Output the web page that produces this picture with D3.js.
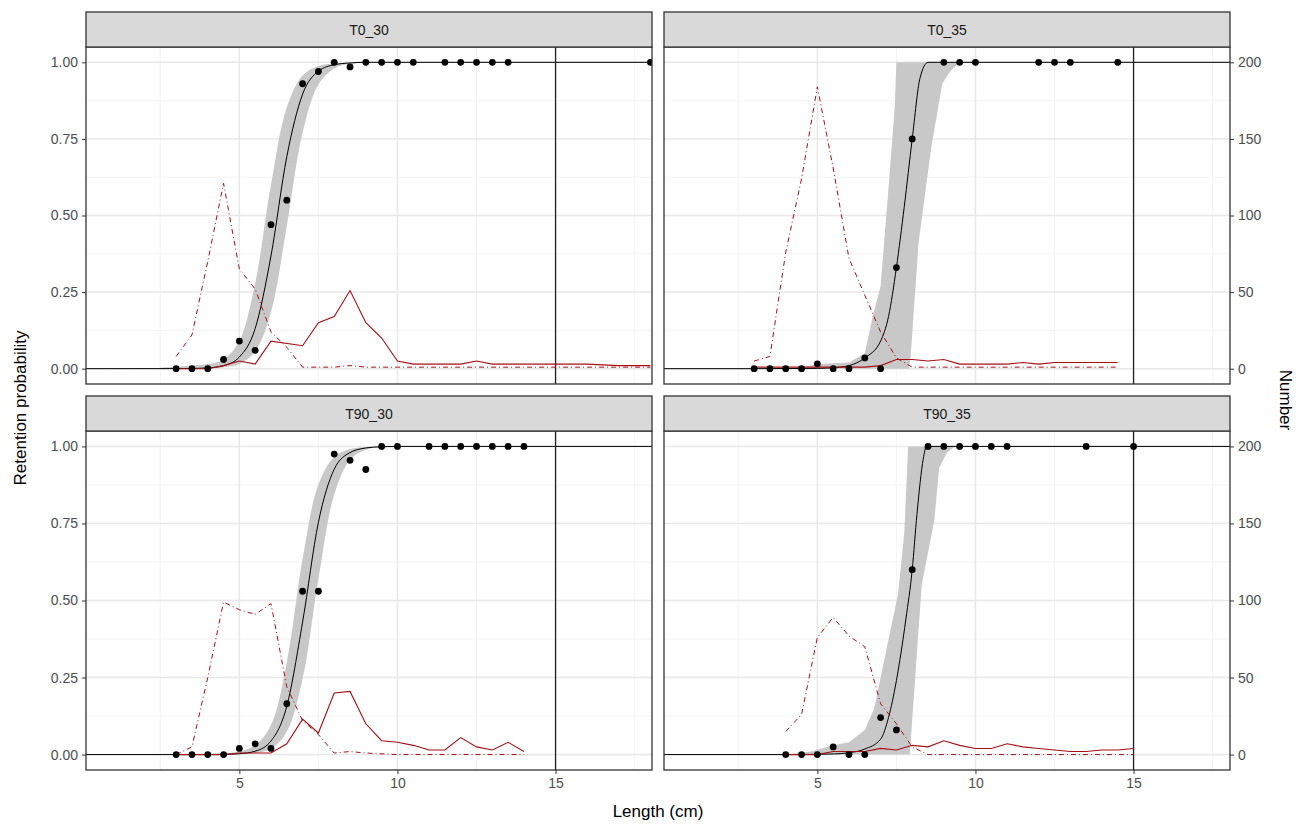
<!DOCTYPE html>
<html>
<head>
<meta charset="utf-8">
<script src="https://cdn.jsdelivr.net/npm/d3@7"></script>
<style>
  body { margin: 0; background: #fff; }
  text { font-family: "Liberation Sans", Arial, sans-serif; }
</style>
</head>
<body>
<div id="chart"></div>
<script>
// Panel names (facets)
const panels = ['T0_30', 'T0_35', 'T90_30', 'T90_35'];

// Observed retention points per panel
const obsLen = {
  T0_30: [3, 3.5, 4, 4.5, 5, 5.5, 6, 6.5, 7, 7.5, 8, 8.5, 9, 9.5, 10, 10.5, 11.5, 12, 12.5, 13, 13.5, 18],
  T0_35: [3, 3.5, 4, 4.5, 5, 5.5, 6, 6.5, 7, 7.5, 8, 9, 9.5, 10, 12, 12.5, 13, 14.5],
  T90_30: [3, 3.5, 4, 4.5, 5, 5.5, 6, 6.5, 7, 7.5, 8, 8.5, 9, 9.5, 10, 11, 11.5, 12, 12.5, 13, 13.5, 14],
  T90_35: [4, 4.5, 5, 5.5, 6, 6.5, 7, 7.5, 8, 8.5, 9, 9.5, 10, 10.5, 11, 13.5, 15]
};
const obsProb = {
  T0_30: [0, 0, 0, 0.03, 0.09, 0.06, 0.47, 0.55, 0.93, 0.97, 1, 0.985, 1, 1, 1, 1, 1, 1, 1, 1, 1, 1],
  T0_35: [0, 0, 0, 0, 0.016, 0, 0, 0.035, 0, 0.33, 0.75, 1, 1, 1, 1, 1, 1, 1],
  T90_30: [0, 0, 0, 0, 0.02, 0.035, 0.02, 0.165, 0.53, 0.53, 0.975, 0.955, 0.925, 1, 1, 1, 1, 1, 1, 1, 1, 1],
  T90_35: [0, 0, 0, 0.025, 0, 0, 0.12, 0.08, 0.6, 1, 1, 1, 1, 1, 1, 1, 1]
};

// Fitted selectivity curve
const fitLen = {
  T0_30: [0, 3, 3.5, 4, 4.5, 5, 5.5, 6, 6.5, 7, 7.5, 8, 8.5, 9, 18.5],
  T0_35: [0, 3, 5, 5.5, 6, 6.5, 7, 7.25, 7.5, 7.75, 8, 8.25, 8.5, 18.5],
  T90_30: [0, 3, 4, 4.5, 5, 5.5, 6, 6.5, 7, 7.5, 8, 8.5, 9, 9.5, 10, 18.5],
  T90_35: [0, 4, 5.5, 6, 6.5, 7, 7.25, 7.5, 7.8, 8, 8.15, 8.35, 8.45, 18.5]
};
const fitProb = {
  T0_30: [0, 0.0002, 0.0007, 0.0026, 0.01, 0.038, 0.131, 0.368, 0.692, 0.896, 0.971, 0.992, 0.998, 1, 1],
  T0_35: [0, 0, 0.001, 0.003, 0.01, 0.035, 0.09, 0.17, 0.33, 0.53, 0.75, 0.95, 1, 1],
  T90_30: [0, 0, 0.0002, 0.0007, 0.0028, 0.011, 0.044, 0.157, 0.43, 0.754, 0.926, 0.98, 0.995, 0.999, 1, 1],
  T90_35: [0, 0, 0.002, 0.006, 0.018, 0.05, 0.12, 0.24, 0.44, 0.6, 0.78, 0.96, 1, 1]
};

// Confidence band edges (lower / upper)
const loLen = {
  T0_30: [2.5, 3, 3.5, 4, 4.5, 5, 5.5, 6, 6.5, 7, 7.5, 8, 8.5, 9, 9.5],
  T0_35: [3, 7.9, 7.95, 8.2, 8.6, 8.95, 9.2, 9.5],
  T90_30: [3, 5, 5.5, 6, 6.5, 7, 7.5, 8, 8.5, 9, 9.5, 10],
  T90_35: [4, 7.92, 7.95, 8.3, 8.7, 8.85, 9.1, 9.35]
};
const loProb = {
  T0_30: [0, 0, 0, 0.001, 0.004, 0.015, 0.056, 0.185, 0.466, 0.77, 0.928, 0.98, 0.995, 0.999, 1],
  T0_35: [0, 0, 0.04, 0.41, 0.72, 0.93, 0.97, 1],
  T90_30: [0, 0.0012, 0.005, 0.019, 0.074, 0.246, 0.57, 0.843, 0.956, 0.989, 0.997, 1],
  T90_35: [0, 0, 0.04, 0.55, 0.76, 0.93, 0.98, 1]
};
const hiLen = {
  T0_30: [2.5, 3, 3.5, 4, 4.5, 5, 5.5, 6, 6.5, 7, 7.5, 8, 8.5, 9, 9.5],
  T0_35: [3, 4.5, 5, 6, 6.5, 6.75, 7, 7.25, 7.45, 7.5, 9.5],
  T90_30: [3, 4.5, 5, 5.5, 6, 6.5, 7, 7.5, 8, 8.5, 9, 9.5, 10],
  T90_35: [4, 4.8, 5.5, 6, 6.5, 6.8, 7.1, 7.55, 7.75, 7.87, 9.35]
};
const hiProb = {
  T0_30: [0.003, 0.006, 0.01, 0.015, 0.03, 0.091, 0.28, 0.6, 0.853, 0.957, 0.988, 0.997, 0.999, 1, 1],
  T0_35: [0, 0.003, 0.015, 0.02, 0.05, 0.17, 0.27, 0.59, 0.86, 1, 1],
  T90_30: [0, 0.004, 0.01, 0.03, 0.096, 0.3, 0.636, 0.876, 0.966, 0.991, 0.998, 1, 1],
  T90_35: [0, 0.01, 0.03, 0.04, 0.08, 0.15, 0.3, 0.52, 0.72, 1, 1]
};

// Length frequency: retained catch (solid) and escapees (dot-dash), counts
const solidLen = {
  T0_30: [3, 3.5, 4, 4.5, 5, 5.5, 6, 7, 7.5, 8, 8.5, 9, 9.5, 10, 10.5, 11, 11.5, 12, 12.5, 13, 14, 15, 16, 17, 18],
  T0_35: [3, 3.5, 4, 4.5, 5, 5.5, 6, 6.5, 7, 7.5, 8, 8.5, 9, 9.5, 10, 11, 11.5, 12, 12.5, 13, 14, 14.5],
  T90_30: [3, 3.5, 4, 4.5, 5, 5.5, 6, 6.5, 7, 7.5, 8, 8.5, 9, 9.5, 10, 10.5, 11, 11.5, 12, 12.5, 13, 13.5, 14],
  T90_35: [4, 4.5, 5, 5.5, 6, 6.5, 7, 7.5, 8, 8.5, 9, 9.5, 10, 10.5, 11, 11.5, 12, 12.5, 13, 13.5, 14, 14.5, 15]
};
const solidNum = {
  T0_30: [0, 0, 0, 2, 5, 3, 18, 15, 30, 34, 51, 30, 20, 5, 3, 3, 3, 3, 5, 3, 3, 3, 3, 2, 2],
  T0_35: [1, 1, 1, 1, 1, 1, 1, 1, 2, 6, 6, 5, 6, 3, 3, 3, 4, 3, 4, 4, 4, 4],
  T90_30: [0, 0, 0, 0, 1, 1, 1, 7, 23, 14, 40, 41, 20, 9, 8, 6, 3, 3, 11, 5, 3, 8, 2],
  T90_35: [0, 0, 0, 2, 2, 2, 4, 3, 6, 5, 9, 6, 4, 4, 7, 5, 4, 3, 2, 2, 3, 3, 4]
};
const dashLen = {
  T0_30: [3, 3.5, 4, 4.5, 5, 5.5, 6, 6.5, 7, 7.5, 8, 8.5, 9, 10, 12, 14, 16, 18],
  T0_35: [3, 3.5, 4, 4.5, 5, 5.5, 6, 6.5, 7, 7.5, 8, 9, 10, 12, 14.5],
  T90_30: [3, 3.5, 4, 4.5, 5, 5.5, 6, 6.5, 7, 7.5, 8, 8.5, 9, 10, 12, 14],
  T90_35: [4, 4.5, 5, 5.5, 6, 6.5, 7, 7.5, 8, 8.5, 10, 12, 15]
};
const dashNum = {
  T0_30: [8, 22, 70, 121, 65, 52, 24, 14, 1, 1, 1, 2, 1, 1, 1, 1, 1, 1],
  T0_35: [5, 8, 76, 124, 184, 131, 72, 48, 24, 7, 1, 1, 1, 1, 1],
  T90_30: [0, 5, 50, 99, 94, 91, 98, 44, 22, 13, 1, 2, 1, 0, 0, 0],
  T90_35: [15, 26, 76, 89, 77, 70, 33, 20, 5, 0, 0, 0, 0]
};

const xTicks = [5, 10, 15];
const yTicks = [0, 0.25, 0.5, 0.75, 1];
const y2Ticks = [0, 50, 100, 150, 200];
const smoothBand = { T0_30: true, T0_35: false, T90_30: true, T90_35: false };

const W = 1298, H = 825;
const colX = [86, 664], colW = 566;
const rowStrip = [12, 396], stripH = 35, rowH = [337, 339];
const red = '#a50f15';

const svg = d3.select('#chart').append('svg').attr('width', W).attr('height', H);

const x = d3.scaleLinear().domain([0.15, 18.05]).range([0, colW]);

panels.forEach((name, i) => {
  const c = i % 2, r = Math.floor(i / 2);
  const px = colX[c], py = rowStrip[r] + stripH, ph = rowH[r];
  const y = d3.scaleLinear().domain([-0.05, 1.05]).range([ph, 0]);
  const yN = d3.scaleLinear().domain([-10, 210]).range([ph, 0]);

  const g = svg.append('g').attr('transform', `translate(${px},${py})`);
  const clipId = 'clip' + i;
  g.append('clipPath').attr('id', clipId).append('rect').attr('width', colW).attr('height', ph);

  // grid
  const minorX = [2.5, 7.5, 12.5, 17.5], minorY = [0.125, 0.375, 0.625, 0.875];
  g.selectAll('.mx').data(minorX).enter().append('line')
    .attr('x1', d => x(d)).attr('x2', d => x(d)).attr('y1', 0).attr('y2', ph)
    .attr('stroke', '#f0f0f0').attr('stroke-width', 0.8);
  g.selectAll('.my').data(minorY).enter().append('line')
    .attr('y1', d => y(d)).attr('y2', d => y(d)).attr('x1', 0).attr('x2', colW)
    .attr('stroke', '#f0f0f0').attr('stroke-width', 0.8);
  g.selectAll('.gx').data(xTicks).enter().append('line')
    .attr('x1', d => x(d)).attr('x2', d => x(d)).attr('y1', 0).attr('y2', ph)
    .attr('stroke', '#e8e8e8').attr('stroke-width', 1.5);
  g.selectAll('.gy').data(yTicks).enter().append('line')
    .attr('y1', d => y(d)).attr('y2', d => y(d)).attr('x1', 0).attr('x2', colW)
    .attr('stroke', '#e8e8e8').attr('stroke-width', 1.5);

  const body = g.append('g').attr('clip-path', `url(#${clipId})`);

  // confidence band
  const lo = loLen[name].map((l, j) => [l, loProb[name][j]]);
  const hi = hiLen[name].map((l, j) => [l, hiProb[name][j]]);
  const bandCurve = smoothBand[name] ? d3.curveCatmullRom.alpha(0.5) : d3.curveLinear;
  const edge = d3.line().x(d => x(d[0])).y(d => y(d[1])).curve(bandCurve);
  const loPath = edge(lo.slice().reverse());
  body.append('path')
    .attr('d', edge(hi) + 'L' + loPath.slice(1) + 'Z')
    .attr('fill', '#c8c8c8');

  // fitted curve
  const fit = fitLen[name].map((l, j) => [l, fitProb[name][j]]);
  body.append('path')
    .attr('d', d3.line().x(d => x(d[0])).y(d => y(d[1])).curve(d3.curveMonotoneX)(fit))
    .attr('fill', 'none').attr('stroke', '#000').attr('stroke-width', 1);

  // vertical reference at 15
  body.append('line').attr('x1', x(15)).attr('x2', x(15)).attr('y1', 0).attr('y2', ph)
    .attr('stroke', '#222').attr('stroke-width', 1.3);

  // length frequencies
  const lineN = d3.line().x(d => x(d[0])).y(d => yN(d[1]));
  body.append('path')
    .attr('d', lineN(dashLen[name].map((l, j) => [l, dashNum[name][j]])))
    .attr('fill', 'none').attr('stroke', red).attr('stroke-width', 1)
    .attr('stroke-dasharray', '5,3,1,3');
  body.append('path')
    .attr('d', lineN(solidLen[name].map((l, j) => [l, solidNum[name][j]])))
    .attr('fill', 'none').attr('stroke', red).attr('stroke-width', 1.1);

  // observed points
  body.selectAll('circle').data(obsLen[name].map((l, j) => [l, obsProb[name][j]])).enter()
    .append('circle').attr('cx', d => x(d[0])).attr('cy', d => y(d[1])).attr('r', 3.4)
    .attr('fill', '#000');

  // panel border
  g.append('rect').attr('width', colW).attr('height', ph)
    .attr('fill', 'none').attr('stroke', '#333').attr('stroke-width', 1.3);

  // strip
  const s = svg.append('g').attr('transform', `translate(${px},${rowStrip[r]})`);
  s.append('rect').attr('width', colW).attr('height', stripH)
    .attr('fill', '#d9d9d9').attr('stroke', '#333').attr('stroke-width', 1.3);
  s.append('text').attr('x', colW / 2).attr('y', stripH / 2 + 5).attr('text-anchor', 'middle')
    .attr('font-size', 14).attr('fill', '#1a1a1a').text(name);

  // axes
  const axStyle = sel => {
    sel.select('.domain').remove();
    sel.selectAll('line').attr('stroke', '#333');
    sel.selectAll('text').attr('font-size', 14).attr('fill', '#4d4d4d')
      .style('font-family', '"Liberation Sans", Arial, sans-serif');
  };
  if (c === 0) {
    g.append('g').call(d3.axisLeft(y).tickValues(yTicks).tickFormat(d3.format('.2f'))
      .tickSize(4).tickPadding(4)).call(axStyle);
  } else {
    g.append('g').attr('transform', `translate(${colW},0)`)
      .call(d3.axisRight(yN).tickValues(y2Ticks).tickSize(4).tickPadding(4)).call(axStyle);
  }
  if (r === 1) {
    g.append('g').attr('transform', `translate(0,${ph})`)
      .call(d3.axisBottom(x).tickValues(xTicks).tickSize(4).tickPadding(4)).call(axStyle);
  }
});

// axis titles
svg.append('text').attr('transform', 'translate(26,408) rotate(-90)').attr('text-anchor', 'middle')
  .attr('font-size', 17).attr('fill', '#000').text('Retention probability');
svg.append('text').attr('transform', 'translate(1280,400) rotate(90)').attr('text-anchor', 'middle')
  .attr('font-size', 17).attr('fill', '#000').text('Number');
svg.append('text').attr('x', 658).attr('y', 817).attr('text-anchor', 'middle')
  .attr('font-size', 17).attr('fill', '#000').text('Length (cm)');
</script>
</body>
</html>
